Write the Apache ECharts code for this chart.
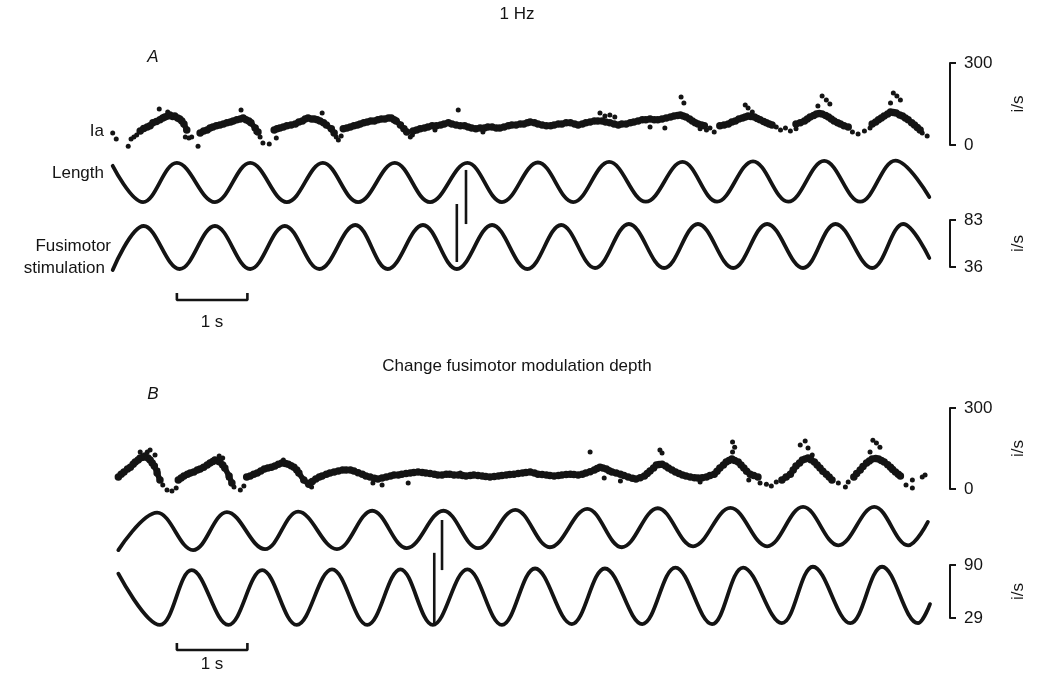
<!DOCTYPE html>
<html>
<head>
<meta charset="utf-8">
<script src="https://cdn.jsdelivr.net/npm/echarts@6/dist/echarts.min.js"></script>
<style>
  html, body { margin: 0; background: #fff; }
  #chart { width: 1041px; height: 675px; }
</style>
</head>
<body>
<div id="chart"></div>
<script>
// time in s; Ia and fusimotor in impulses/s; length in arbitrary units
const lengthA = [[0.01,0.85],[0.44,-1],[0.92,1],[1.46,-1],[1.96,1],[2.48,-1],[2.99,1],[3.49,-1],[4.01,1],[4.51,-1],[5.04,1],[5.53,-1],[6.04,1.02],[6.54,-1],[7.05,1.05],[7.57,-0.98],[8.09,1.05],[8.58,-0.98],[9.09,1.08],[9.59,-0.98],[10.10,1.1],[10.61,-0.98],[11.11,1.12],[11.59,-0.74]]
const fusiA = [[0.01,33],[0.45,77],[0.96,34],[1.46,77],[1.96,34],[2.45,77],[2.94,34],[3.45,78],[3.91,34],[4.41,78],[4.89,34],[5.39,78],[5.89,34],[6.37,78],[6.85,35],[7.33,79],[7.83,35],[8.31,79],[8.81,35],[9.29,79],[9.80,35],[10.26,79],[10.78,35],[11.22,79],[11.59,45]]
const lengthB = [[0.09,-1.1],[0.64,0.85],[1.15,-1.1],[1.63,0.88],[2.17,-1.05],[2.64,0.9],[3.19,-1.05],[3.69,0.95],[4.18,-1],[4.70,0.95],[5.19,-1],[5.72,1],[6.21,-0.95],[6.74,1.05],[7.23,-0.95],[7.74,1.08],[8.24,-0.9],[8.77,1.1],[9.29,-0.9],[9.80,1.15],[10.30,-0.85],[10.81,1.15],[11.29,-0.85],[11.57,0.37]]
const fusiB = [[0.09,80],[0.68,21],[1.13,84],[1.65,21],[2.13,84],[2.62,21],[3.12,85],[3.62,21],[4.09,85],[4.55,21],[5.04,85],[5.53,21],[6.00,86],[6.52,22],[6.99,86],[7.52,22],[7.99,87],[8.51,22],[8.95,87],[9.50,23],[9.94,88],[10.47,23],[10.92,88],[11.43,23],[11.60,45]]

// Ia discharge: dense runs of dots, and the scattered single dots
const iaBandA = [
  [[0.40,51],[0.45,60],[0.50,66],[0.54,70],[0.58,81],[0.63,86],[0.68,92],[0.72,99],[0.75,102],[0.79,106],[0.82,110],[0.86,104],[0.89,106],[0.93,99],[0.96,95],[0.99,88],[1.02,77],[1.06,55]],
  [[1.25,44],[1.30,51],[1.35,55],[1.39,62],[1.43,66],[1.48,70],[1.53,73],[1.58,77],[1.63,81],[1.68,84],[1.72,88],[1.77,92],[1.82,95],[1.86,99],[1.90,92],[1.94,88],[1.97,81],[2.03,62],[2.07,48]],
  [[2.30,55],[2.34,59],[2.38,62],[2.43,66],[2.48,70],[2.54,73],[2.60,77],[2.65,84],[2.70,88],[2.74,95],[2.78,99],[2.83,95],[2.87,95],[2.91,92],[2.95,88],[3.00,81],[3.04,73],[3.11,59],[3.15,44]],
  [[3.28,59],[3.33,62],[3.38,66],[3.43,70],[3.48,73],[3.52,77],[3.57,81],[3.62,84],[3.67,88],[3.72,88],[3.77,92],[3.82,95],[3.87,95],[3.92,99],[3.96,99],[4.00,92],[4.03,88],[4.09,73],[4.14,59],[4.18,48]],
  [[4.27,51],[4.32,55],[4.37,59],[4.43,62],[4.48,66],[4.54,70],[4.60,70],[4.66,73],[4.71,77],[4.77,81],[4.82,77],[4.88,73],[4.94,70],[5.00,70],[5.05,66],[5.10,62],[5.16,59],[5.22,62],[5.28,62],[5.33,66],[5.39,66],[5.45,62],[5.50,62],[5.56,66],[5.62,70],[5.67,73],[5.73,73],[5.79,77],[5.84,77],[5.89,81],[5.93,84],[5.99,81],[6.04,77],[6.10,73],[6.16,70],[6.22,70],[6.27,73],[6.33,77],[6.38,77],[6.44,81],[6.50,81],[6.56,77],[6.61,73],[6.67,77],[6.72,81],[6.78,84],[6.84,88],[6.89,88],[6.95,88],[7.00,84],[7.06,81],[7.12,77],[7.18,73],[7.23,77],[7.29,77],[7.35,81],[7.40,84],[7.46,88],[7.52,92],[7.57,92],[7.63,95],[7.69,92],[7.74,92],[7.80,95],[7.86,99],[7.92,102],[7.97,106],[8.02,108],[8.06,110],[8.10,106],[8.14,102],[8.19,95],[8.23,88],[8.27,81],[8.31,77],[8.36,73],[8.40,70]],
  [[8.62,70],[8.68,73],[8.74,77],[8.79,84],[8.84,88],[8.89,95],[8.94,99],[8.98,102],[9.02,106],[9.06,104],[9.11,102],[9.15,97],[9.19,92],[9.24,86],[9.28,81],[9.32,77],[9.36,73]],
  [[9.70,77],[9.76,81],[9.82,88],[9.86,95],[9.90,102],[9.95,108],[9.99,113],[10.03,115],[10.07,113],[10.12,108],[10.16,102],[10.20,95],[10.24,88],[10.29,81],[10.33,77],[10.38,70],[10.44,66]],
  [[10.78,77],[10.83,84],[10.87,92],[10.91,99],[10.95,106],[11.00,113],[11.04,121],[11.08,119],[11.12,117],[11.17,110],[11.21,106],[11.25,99],[11.29,92],[11.34,81],[11.38,73],[11.42,64],[11.46,55]]
]
const iaDotsA = [[0.01,44],[0.06,22],[0.23,-5],[0.27,22],[0.31,29],[0.35,37],[0.67,132],[0.79,121],[1.04,29],[1.09,26],[1.13,29],[1.22,-5],[1.83,128],[2.04,48],[2.10,29],[2.14,7],[2.23,4],[2.33,26],[2.98,117],[3.18,29],[3.21,18],[3.25,33],[4.23,29],[4.26,37],[4.91,128],[4.58,55],[5.26,48],[6.92,117],[6.99,106],[7.06,110],[7.13,102],[7.63,66],[7.84,62],[8.07,176],[8.11,154],[8.34,59],[8.43,55],[8.48,62],[8.54,48],[8.98,146],[9.02,135],[9.08,121],[9.42,66],[9.48,55],[9.55,62],[9.62,51],[9.70,59],[10.07,179],[10.13,165],[10.18,150],[10.01,143],[10.50,48],[10.58,40],[10.67,51],[10.75,62],[11.04,154],[11.08,190],[11.13,179],[11.18,165],[11.49,44],[11.56,33]]

const iaBandB = [
  [[0.09,44],[0.13,55],[0.17,63],[0.22,74],[0.26,81],[0.30,92],[0.33,100],[0.37,107],[0.40,115],[0.44,118],[0.47,122],[0.51,115],[0.54,107],[0.57,96],[0.60,85],[0.64,59],[0.68,33]],
  [[0.94,33],[0.98,41],[1.02,48],[1.07,55],[1.11,59],[1.16,63],[1.21,70],[1.25,74],[1.30,81],[1.35,89],[1.39,96],[1.43,102],[1.46,107],[1.50,104],[1.53,100],[1.57,89],[1.60,78],[1.66,48],[1.70,22]],
  [[1.91,44],[1.96,48],[2.01,55],[2.06,59],[2.11,67],[2.16,74],[2.21,78],[2.26,81],[2.31,85],[2.36,92],[2.41,96],[2.46,94],[2.50,92],[2.54,86],[2.58,81],[2.62,70],[2.65,59],[2.72,33],[2.79,18],[2.84,28],[2.89,37],[2.94,44],[2.98,48],[3.04,55],[3.09,59],[3.15,63],[3.21,67],[3.27,70],[3.32,70],[3.38,70],[3.43,67],[3.49,60],[3.55,55],[3.60,48],[3.66,44],[3.72,40],[3.77,37],[3.83,41],[3.89,44],[3.95,48],[4.00,52],[4.06,52],[4.11,55],[4.17,57],[4.23,59],[4.28,61],[4.34,63],[4.40,61],[4.45,59],[4.51,57],[4.57,55],[4.62,52],[4.68,52],[4.74,55],[4.79,55],[4.85,52],[4.91,52],[4.97,50],[5.02,48],[5.08,50],[5.13,52],[5.19,50],[5.25,48],[5.30,46],[5.36,44],[5.42,46],[5.48,48],[5.53,50],[5.59,52],[5.64,54],[5.70,55],[5.76,57],[5.82,59],[5.87,61],[5.93,63],[5.99,59],[6.04,55],[6.10,54],[6.16,52],[6.21,50],[6.27,48],[6.33,50],[6.38,52],[6.44,54],[6.50,55],[6.55,54],[6.61,52],[6.67,55],[6.72,59],[6.78,64],[6.84,70],[6.88,76],[6.92,81],[6.96,78],[7.01,74],[7.05,68],[7.09,63],[7.15,59],[7.21,55],[7.26,50],[7.32,44],[7.38,40],[7.43,37],[7.49,42],[7.55,48],[7.59,57],[7.63,67],[7.68,78],[7.72,89],[7.76,91],[7.80,92],[7.85,85],[7.89,78],[7.94,70],[7.99,63],[8.04,57],[8.09,52],[8.14,48],[8.20,44],[8.26,42],[8.31,41],[8.37,42],[8.43,44],[8.48,50],[8.54,55],[8.58,66],[8.62,78],[8.67,89],[8.71,100],[8.75,106],[8.79,111],[8.83,106],[8.88,100],[8.92,89],[8.96,78],[9.00,66],[9.05,55],[9.10,50],[9.16,44]],
  [[9.50,33],[9.56,44],[9.62,55],[9.66,70],[9.70,85],[9.75,96],[9.79,107],[9.83,111],[9.87,115],[9.91,108],[9.96,100],[10.00,89],[10.04,78],[10.08,66],[10.13,55],[10.17,44],[10.21,33]],
  [[10.52,44],[10.56,57],[10.61,70],[10.65,83],[10.70,96],[10.74,104],[10.78,111],[10.83,113],[10.87,111],[10.91,106],[10.95,100],[11.00,90],[11.04,81],[11.07,72],[11.11,63],[11.15,55],[11.18,48]]
]
const iaDotsB = [[0.50,137],[0.54,144],[0.61,126],[0.40,137],[0.65,70],[0.72,15],[0.78,-4],[0.85,-7],[0.91,4],[1.52,122],[1.57,115],[1.65,41],[1.73,7],[1.82,-4],[1.87,11],[2.43,107],[2.83,7],[2.79,26],[3.70,22],[3.83,15],[4.20,22],[4.94,59],[6.78,137],[6.98,41],[7.21,30],[7.77,144],[7.80,133],[8.34,26],[8.80,174],[8.83,155],[8.80,137],[9.03,33],[9.19,22],[9.28,18],[9.35,11],[9.42,26],[9.76,163],[9.83,178],[9.87,152],[9.93,126],[10.30,22],[10.40,7],[10.44,26],[10.79,181],[10.84,170],[10.89,155],[10.75,137],[11.26,15],[11.35,33],[11.35,4],[11.49,44],[11.53,52]]

// stimulus marks [time, from, to] in the units of the trace they cross
const markLenA = [5.02, 0.64, -2.12]
const markFusiA = [4.89, 99, 41]
const markLenB = [4.68, 0.47, -2.14]
const markFusiB = [4.57, 104, 22]

const timeBar = [0.92, 1.92] // 1 s calibration
const iaTicks = [0, 300]
const fusiTicksA = [36, 83]
const fusiTicksB = [29, 90]

const INK = '#141414'
const FONT = '"Liberation Sans", Arial, sans-serif'

const chart = echarts.init(document.getElementById('chart'))

const gridTops = [
  {top: 63, height: 82},   // 0 Ia A
  {top: 158, height: 49},  // 1 length A
  {top: 220, height: 47},  // 2 fusimotor A
  {top: 293, height: 7},   // 3 time bar A
  {top: 408, height: 81},  // 4 Ia B
  {top: 505, height: 48},  // 5 length B
  {top: 565, height: 53},  // 6 fusimotor B
  {top: 643, height: 7}    // 7 time bar B
]
const grid = gridTops.map(g => ({left: 112, width: 818, top: g.top, height: g.height, show: false}))
const xAxis = grid.map((g, i) => ({type: 'value', gridIndex: i, min: 0, max: 11.6, show: false}))

function scaleAxis(i, ticks) {
  return {
    type: 'value', gridIndex: i, min: ticks[0], max: ticks[1],
    position: 'right', offset: 20,
    axisLine: {show: true, onZero: false, lineStyle: {color: INK, width: 2}},
    axisTick: {show: true, length: 6, lineStyle: {color: INK, width: 2}, customValues: ticks},
    axisLabel: {show: true, margin: 14, color: INK, fontSize: 17, fontFamily: FONT, customValues: ticks},
    splitLine: {show: false},
    name: 'i/s', nameLocation: 'middle', nameRotate: 90, nameGap: 60,
    nameTextStyle: {color: INK, fontSize: 17, fontFamily: FONT}
  }
}
function hiddenAxis(i, min, max) {
  return {type: 'value', gridIndex: i, min, max, show: false}
}
const yAxis = [
  scaleAxis(0, iaTicks),
  hiddenAxis(1, -1.25, 1.25),
  scaleAxis(2, fusiTicksA),
  hiddenAxis(3, 0, 1),
  scaleAxis(4, iaTicks),
  hiddenAxis(5, -1.25, 1.25),
  scaleAxis(6, fusiTicksB),
  hiddenAxis(7, 0, 1)
]

const base = {silent: true, animation: false, clip: false}
function wave(i, data) {
  return {...base, type: 'line', xAxisIndex: i, yAxisIndex: i, data, smooth: 0.38, showSymbol: false,
    lineStyle: {color: INK, width: 3.8, cap: 'round', join: 'round'}}
}
function band(i, data) {
  return {...base, type: 'line', xAxisIndex: i, yAxisIndex: i, data, smooth: false,
    showSymbol: true, symbol: 'circle', symbolSize: 7.5,
    itemStyle: {color: INK, opacity: 1},
    lineStyle: {color: INK, width: 5.5, cap: 'round', join: 'round'}}
}
function dots(i, data) {
  return {...base, type: 'scatter', xAxisIndex: i, yAxisIndex: i, data, symbolSize: 5,
    itemStyle: {color: INK, opacity: 1}}
}
function mark(i, m) {
  return {...base, type: 'line', xAxisIndex: i, yAxisIndex: i, data: [[m[0], m[1]], [m[0], m[2]]],
    showSymbol: false, lineStyle: {color: INK, width: 2.6}}
}
function bar(i) {
  const d = [[timeBar[0], 1], [timeBar[0], 0], [timeBar[1], 0], [timeBar[1], 1]]
  return {...base, type: 'line', xAxisIndex: i, yAxisIndex: i, data: d, showSymbol: false,
    lineStyle: {color: INK, width: 2.6}}
}

const series = [
  ...iaBandA.map(s => band(0, s)), dots(0, iaDotsA),
  wave(1, lengthA), wave(2, fusiA), mark(1, markLenA), mark(2, markFusiA), bar(3),
  ...iaBandB.map(s => band(4, s)), dots(4, iaDotsB),
  wave(5, lengthB), wave(6, fusiB), mark(5, markLenB), mark(6, markFusiB), bar(7)
]

function txt(text, x, y, opts = {}) {
  return {type: 'text', x, y, silent: true, style: {text, fill: INK, fontSize: 17, fontFamily: FONT,
    align: opts.align || 'center', verticalAlign: 'middle', fontStyle: opts.italic ? 'italic' : 'normal'}}
}
const graphic = [
  txt('1 Hz', 517, 14),
  txt('A', 153, 57, {italic: true}),
  txt('Ia', 104, 131, {align: 'right'}),
  txt('Length', 104, 173, {align: 'right'}),
  txt('Fusimotor', 111, 246, {align: 'right'}),
  txt('stimulation', 105, 268, {align: 'right'}),
  txt('1 s', 212, 322),
  txt('Change fusimotor modulation depth', 517, 366),
  txt('B', 153, 394, {italic: true}),
  txt('1 s', 212, 664)
]

chart.setOption({animation: false, grid, xAxis, yAxis, series, graphic})
</script>
</body>
</html>
